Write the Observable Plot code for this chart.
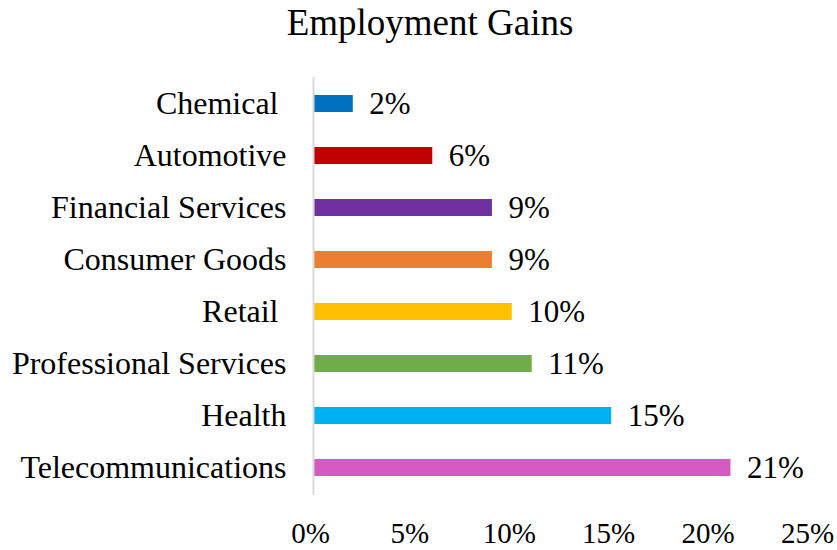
<!DOCTYPE html>
<html>
<head>
<meta charset="utf-8">
<script src="https://cdn.jsdelivr.net/npm/d3@7"></script>
<script src="https://cdn.jsdelivr.net/npm/@observablehq/plot@0.6"></script>
<style>
  body { margin: 0; background: #fff; }
  #title { width: 837px; height: 60px; box-sizing: border-box; padding-top: 4px; padding-left: 23px;
    text-align: center; font-family: "Liberation Serif", "Times New Roman", serif; font-size: 37px; line-height: 37px; color: #000; }
  svg text { white-space: pre; }
</style>
</head>
<body>
<div id="title">Employment Gains</div>
<div id="chart"></div>
<script>
const categories = ["Chemical ", "Automotive", "Financial Services", "Consumer Goods", "Retail ", "Professional Services", "Health", "Telecommunications"];
const values = [2, 6, 9, 9, 10, 11, 15, 21];
const colors = ["#0070C0", "#C00000", "#7030A0", "#ED7D31", "#FFC000", "#70AD47", "#00B0F0", "#D55BC3"];
const xTicks = [0, 5, 10, 15, 20, 25];

const data = categories.map((c, i) => ({category: c, value: values[i], color: colors[i]}));

const chart = Plot.plot({
  width: 837,
  height: 490,
  marginTop: 17,
  marginBottom: 55,
  marginLeft: 313,
  marginRight: 27,
  style: {fontFamily: "'Liberation Serif', 'Times New Roman', serif", fontSize: "31px", color: "#000", background: "#fff"},
  x: {domain: [0, 25], ticks: xTicks},
  y: {domain: categories, paddingInner: 0.67, paddingOuter: 0.335},
  marks: [
    Plot.barX(data, {y: "category", x: "value", fill: "color"}),
    Plot.ruleX([0], {stroke: "#D9D9D9", strokeWidth: 2}),
    Plot.text(data, {y: "category", x: "value", text: d => d.value + "%", textAnchor: "start", dx: 16, fill: "#000", fontSize: 31}),
    Plot.axisY({tickSize: 0, tickPadding: 27, fontSize: 32, label: null}),
    Plot.axisX({ticks: xTicks, tickSize: 0, tickPadding: 27, dx: -3, tickFormat: d => d + "%", fontSize: 29, label: null})
  ]
});
document.getElementById("chart").appendChild(chart);
</script>
</body>
</html>
